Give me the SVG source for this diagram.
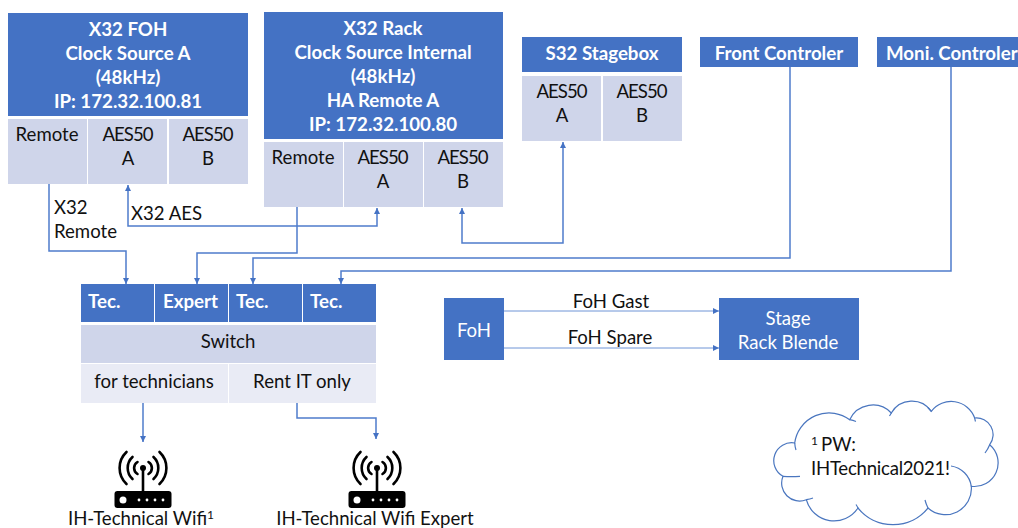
<svg xmlns="http://www.w3.org/2000/svg" width="1018" height="528" viewBox="0 0 1018 528">
<style>
text{font-family:Lato,"Liberation Sans",sans-serif;font-size:18.6px;fill:#111;text-anchor:middle;transform:translateY(.7px)}
.h{fill:#4472C4}.c{fill:#CFD5EA}.l{fill:#E9EBF5}
.w{fill:#fff;font-weight:700;font-size:18.7px}.wn{fill:#fff}.s{text-anchor:start}
.con{fill:none;stroke:#4f7ccb;stroke-width:1.5}
.thin{fill:none;stroke:#6f94d6;stroke-width:1}
.ic{fill:none;stroke:#000;stroke-width:2.6;stroke-linecap:round}
.cl{fill:none;stroke:#4a76bf;stroke-width:1.2}
</style>
<defs>
<marker id="a" markerWidth="7" markerHeight="7" refX="6" refY="3" orient="auto" markerUnits="userSpaceOnUse"><path d="M0 0L6 3L0 6Z" fill="#4472C4"/></marker>
<g id="wifi">
<path class="ic" d="M-5.500 -44A7 7 0 0 0 -5.500 -32M5.500 -44A7 7 0 0 1 5.500 -32M-10.500 -49A15 15 0 0 0 -10.500 -27M10.500 -49A15 15 0 0 1 10.500 -27M-16.500 -54A22 22 0 0 0 -16.500 -22M16.500 -54A22 22 0 0 1 16.500 -22"/>
<circle cx="0" cy="-38" r="3"/><path d="M-1.300 -38h2.600v24h-2.600z"/>
<rect x="-28.500" y="-15" width="57" height="17" rx="3"/>
<g fill="#fff"><circle cx="-20" cy="-6" r="3.500"/><circle cx="-4" cy="-6" r="1.400"/><circle cx="4" cy="-6" r="1.400"/><circle cx="12" cy="-6" r="1.400"/><circle cx="20" cy="-6" r="1.400"/></g>
</g>
</defs>
<g id="connectors">
<path class="con" marker-end="url(#a)" d="M49 184V251H126V284"/>
<path class="con" marker-end="url(#a)" d="M297 207V253H197V284"/>
<path class="con" marker-end="url(#a)" d="M790 67V258H253V284"/>
<path class="con" marker-end="url(#a)" d="M951 67V271H341V284"/>
<path class="con" marker-end="url(#a)" d="M252 226H128V185"/>
<path class="con" marker-end="url(#a)" d="M252 226H377V208"/>
<path class="con" marker-end="url(#a)" d="M512 243H462V208"/>
<path class="con" marker-end="url(#a)" d="M512 243H563V142"/>
<path class="con" marker-end="url(#a)" d="M143 403V442"/>
<path class="con" marker-end="url(#a)" d="M297 403V418H376V439"/>
<path class="thin" marker-end="url(#a)" d="M504 311H719"/>
<path class="thin" marker-end="url(#a)" d="M504 348H719"/>
</g>
<g id="x32-foh">
<rect class="h" x="8" y="13" width="240" height="103"/>
<rect class="c" x="8" y="119" width="79" height="65"/><rect class="c" x="88" y="119" width="79" height="65"/><rect class="c" x="169" y="119" width="79" height="65"/>
<text class="w" x="128" y="35">X32 FOH</text><text class="w" x="128" y="59">Clock Source A</text><text class="w" x="128" y="83">(48kHz)</text><text class="w" x="128" y="107">IP: 172.32.100.81</text>
<text x="47" y="140">Remote</text><text x="128" y="140" textLength="51">AES50</text><text x="128" y="164">A</text><text x="208" y="140" textLength="51">AES50</text><text x="208" y="164">B</text>
</g>
<g id="x32-rack">
<rect class="h" x="264" y="12" width="239" height="127"/>
<rect class="c" x="264" y="142" width="79" height="65"/><rect class="c" x="344" y="142" width="79" height="65"/><rect class="c" x="424" y="142" width="79" height="65"/>
<text class="w" x="383" y="34">X32 Rack</text><text class="w" x="383" y="58">Clock Source Internal</text><text class="w" x="383" y="82">(48kHz)</text><text class="w" x="383" y="106">HA Remote A</text><text class="w" x="383" y="130">IP: 172.32.100.80</text>
<text x="303" y="163">Remote</text><text x="383" y="163" textLength="51">AES50</text><text x="383" y="187">A</text><text x="463" y="163" textLength="51">AES50</text><text x="463" y="187">B</text>
</g>
<g id="s32">
<rect class="h" x="522" y="37" width="160" height="35"/>
<rect class="c" x="522" y="76" width="79" height="65"/><rect class="c" x="603" y="76" width="79" height="65"/>
<text class="w" x="602" y="59">S32 Stagebox</text>
<text x="562" y="97" textLength="51">AES50</text><text x="562" y="121">A</text><text x="642" y="97" textLength="51">AES50</text><text x="642" y="121">B</text>
</g>
<g id="front"><rect class="h" x="700" y="37" width="158" height="30"/><text class="w" x="779" y="59">Front Controler</text></g>
<g id="moni"><rect class="h" x="877" y="37" width="141" height="30"/><text class="w s" x="886" y="59">Moni. Controler</text></g>
<g id="switch">
<rect class="h" x="81" y="284" width="73" height="38"/><rect class="h" x="155" y="284" width="73" height="38"/><rect class="h" x="229" y="284" width="73" height="38"/><rect class="h" x="303" y="284" width="73" height="38"/>
<rect class="c" x="81" y="325" width="295" height="38"/>
<rect class="l" x="81" y="364" width="147" height="39"/><rect class="l" x="229" y="364" width="147" height="39"/>
<text class="w s" x="88" y="307">Tec.</text><text class="w s" x="163" y="307">Expert</text><text class="w s" x="236" y="307">Tec.</text><text class="w s" x="310" y="307">Tec.</text>
<text x="228" y="347">Switch</text><text x="154" y="387">for technicians</text><text x="302" y="387">Rent IT only</text>
</g>
<g id="foh"><rect class="h" x="444" y="298" width="60" height="62"/><text class="wn" x="474" y="336">FoH</text></g>
<g id="stage"><rect class="h" x="719" y="298" width="140" height="62"/><text class="wn" x="788" y="324">Stage</text><text class="wn" x="788" y="348">Rack Blende</text></g>
<g id="labels">
<text class="s" x="54" y="213">X32</text><text class="s" x="54" y="237">Remote</text><text class="s" x="131" y="219">X32 AES</text>
<text x="611" y="307">FoH Gast</text><text x="610" y="343">FoH Spare</text>
</g>
<g id="wifi-tech"><use href="#wifi" x="143" y="506"/><text x="141" y="524">IH-Technical Wifi<tspan font-size="12" dy="-6">1</tspan></text></g>
<g id="wifi-expert"><use href="#wifi" x="377" y="506"/><text x="375" y="524">IH-Technical Wifi Expert</text></g>
<g id="cloud">
<path fill="#fff" stroke="#4a76bf" stroke-width="1.2" d="M794.700 443A34.700 34.700 0 0 1 849.700 419.700A25.500 25.500 0 0 1 891.300 413A23.700 23.700 0 0 1 931.300 411.300A25 25 0 0 1 974.700 418A16.700 16.700 0 0 1 989.700 444.700A23.700 23.700 0 0 1 971.300 486.300A26 26 0 0 1 928 508A45 45 0 0 1 858 508A28.700 28.700 0 0 1 806.300 499.700A17.900 17.900 0 0 1 783 476.300A17.900 17.900 0 0 1 794.700 443Z"/>
<path class="cl" d="M971.300 486.300A24 24 0 0 0 951 466M849.700 419.700Q853 420.500 856 421.500M891.300 413Q890.500 414.500 889.500 416M931.300 411.300Q929.500 409 928 407.500M974.700 418Q975 420 975.500 421.500M989.700 444.700Q988 449 985 453M928 508Q926 504 925 500M858 508Q857 506 856 504.500M806.300 499.700Q810 499 813 498M783 476.300Q791 477 800 476.300M794.700 443Q795 447 796 450"/>
<text class="s" x="811" y="450"><tspan font-size="12" dy="-6">1 </tspan><tspan dy="6">PW:</tspan></text>
<text class="s" x="811" y="474.500" textLength="139">IHTechnical2021!</text>
</g>
</svg>
